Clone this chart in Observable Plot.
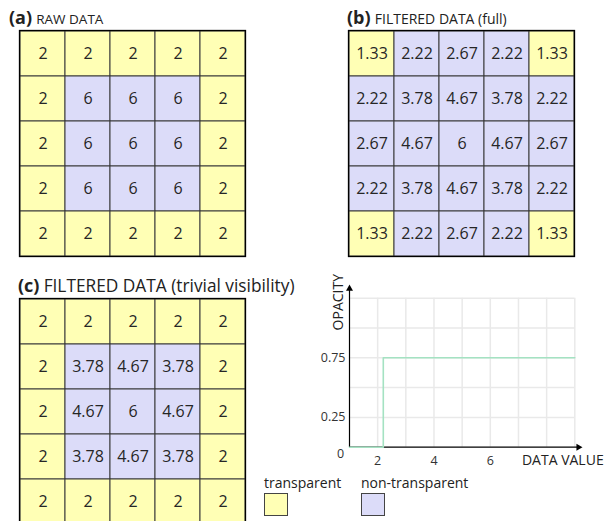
<!DOCTYPE html>
<html><head><meta charset="utf-8">
<script src="https://cdn.jsdelivr.net/npm/d3@7"></script>
<script src="https://cdn.jsdelivr.net/npm/@observablehq/plot@0.6"></script>
<style>
body{margin:0;background:#fff;font-family:"Open Sans",sans-serif;color:#222;}
#root{position:relative;width:614px;height:521px;overflow:hidden;background:#fff;}
.panel{position:absolute;}
.title{position:absolute;white-space:nowrap;color:#222;line-height:1;}
.title b{font-weight:700;}
.leg{position:absolute;font-size:14px;color:#222;white-space:nowrap;line-height:1;}
.sw{position:absolute;width:22px;height:21px;border:1px solid #444;}
</style></head><body><div id="root"></div>
<script>
// ---------- data ----------
const gridRows = [0, 1, 2, 3, 4];
const gridCols = [0, 1, 2, 3, 4];
const categories = ["transparent", "non-transparent"];
const categoryColors = ["#ffffb5", "#dcdcf9"];

const rawValues = [
  ["2","2","2","2","2"],
  ["2","6","6","6","2"],
  ["2","6","6","6","2"],
  ["2","6","6","6","2"],
  ["2","2","2","2","2"]
];
const rawVisible = [
  [0,0,0,0,0],
  [0,1,1,1,0],
  [0,1,1,1,0],
  [0,1,1,1,0],
  [0,0,0,0,0]
];
const fullValues = [
  ["1.33","2.22","2.67","2.22","1.33"],
  ["2.22","3.78","4.67","3.78","2.22"],
  ["2.67","4.67","6","4.67","2.67"],
  ["2.22","3.78","4.67","3.78","2.22"],
  ["1.33","2.22","2.67","2.22","1.33"]
];
const fullVisible = [
  [0,1,1,1,0],
  [1,1,1,1,1],
  [1,1,1,1,1],
  [1,1,1,1,1],
  [0,1,1,1,0]
];
const trivialValues = [
  ["2","2","2","2","2"],
  ["2","3.78","4.67","3.78","2"],
  ["2","4.67","6","4.67","2"],
  ["2","3.78","4.67","3.78","2"],
  ["2","2","2","2","2"]
];
const trivialVisible = rawVisible;

// opacity transfer function (step)
const tfDataValue = [1, 2.2, 9];
const tfOpacity = [0, 0.75, 0.75];
const xTicks = [2, 4, 6];
const xGrid = [2, 3, 4, 5, 6, 7, 8, 9];
const yTickValues = [0.25, 0.75];
const yTickLabels = ["0.25", "0.75"];
const yGrid = [0.25, 0.5, 0.75, 1, 1.25];
const xDomain = [1, 9];
const yDomain = [0, 1.25];
const xAxisEnd = 9.13;
const yAxisEnd = 1.33;

// ---------- helpers ----------
const root = document.getElementById("root");
function place(el, left, top) {
  el.classList.add("panel");
  el.style.left = left + "px";
  el.style.top = top + "px";
  root.appendChild(el);
  return el;
}
function title(bold, rest, left, top, bsize, rsize) {
  const d = document.createElement("div");
  d.className = "title";
  d.style.left = left + "px";
  d.style.top = top + "px";
  d.innerHTML = `<b style="font-size:${bsize}px">${bold}</b>&nbsp;<span style="font-size:${rsize}px">${rest}</span>`;
  root.appendChild(d);
}
function gridPanel(values, visible, opts) {
  const data = [];
  for (const r of gridRows) for (const c of gridCols)
    data.push({row: r, col: c, label: values[r][c], cat: categories[visible[r][c]]});
  return Plot.plot({
    width: opts.width, height: opts.height,
    marginLeft: opts.ml, marginRight: opts.mr, marginTop: opts.mt, marginBottom: opts.mb,
    style: {fontFamily: "Open Sans", background: "transparent", overflow: "visible"},
    x: {type: "band", domain: gridCols, padding: 0, axis: null},
    y: {type: "band", domain: gridRows, padding: 0, axis: null},
    color: {domain: categories, range: categoryColors},
    marks: [
      Plot.cell(data, {x: "col", y: "row", fill: "cat", stroke: "#3a3a3a", strokeWidth: 1, inset: 0}),
      Plot.frame({stroke: "#000", strokeWidth: 1.3}),
      Plot.text(data, {x: "col", y: "row", text: "label", fontSize: 16, fill: "#262626"})
    ]
  });
}

// ---------- panels ----------
place(gridPanel(rawValues, rawVisible, {width: 262, height: 270, ml: 19, mr: 17, mt: 30, mb: 14}), 0, 0);
place(gridPanel(fullValues, fullVisible, {width: 262, height: 270, ml: 18, mr: 18, mt: 30, mb: 14}), 330, 0);
place(gridPanel(trivialValues, trivialVisible, {width: 262, height: 260, ml: 19, mr: 17, mt: 28, mb: 6}), 0, 270);

title("(a)", "RAW DATA", 9, 8, 18, 13.5);
title("(b)", "FILTERED DATA (full)", 347, 8, 18, 14);
title("(c)", "FILTERED DATA (trivial visibility)", 18, 276, 18, 17.3);

// ---------- transfer function chart ----------
const tf = tfDataValue.map((v, i) => ({v, o: tfOpacity[i]}));
const chart = Plot.plot({
  width: 314, height: 210,
  marginLeft: 49, marginRight: 39.7, marginTop: 37.7, marginBottom: 23.3,
  style: {fontFamily: "Open Sans", background: "transparent", overflow: "visible"},
  x: {domain: xDomain, axis: null},
  y: {domain: yDomain, axis: null},
  marks: [
    Plot.ruleX(xGrid, {stroke: "#e9e9e9", strokeWidth: 1.5}),
    Plot.ruleY(yGrid, {stroke: "#e9e9e9", strokeWidth: 1.5}),
    Plot.link([{x1: xDomain[0], y1: 0, x2: xAxisEnd, y2: 0}], {x1: "x1", y1: "y1", x2: "x2", y2: "y2", stroke: "#000", strokeWidth: 1.2}),
    Plot.link([{x1: xDomain[0], y1: 0, x2: xDomain[0], y2: yAxisEnd}], {x1: "x1", y1: "y1", x2: "x2", y2: "y2", stroke: "#000", strokeWidth: 1.2}),
    Plot.dot([{x: xAxisEnd, y: 0}], {x: "x", y: "y", symbol: "triangle", r: 2.6, fill: "#000", stroke: null, rotate: 90}),
    Plot.dot([{x: xDomain[0], y: yAxisEnd}], {x: "x", y: "y", symbol: "triangle", r: 2.6, fill: "#000", stroke: null}),
    Plot.line(tf, {x: "v", y: "o", curve: "step-after", stroke: "#a4e2c2", strokeWidth: 1.6}),
    Plot.text(xTicks, {x: d => d, y: 0, dy: 14, text: d => String(d), fontSize: 12.5, fill: "#333"}),
    Plot.text(yTickValues, {x: xDomain[0], y: d => d, dx: -4, text: (d, i) => yTickLabels[i], textAnchor: "end", fontSize: 12.5, fill: "#333"}),
    Plot.text([0], {x: xDomain[0], y: d => d, dx: -9, dy: 7, text: d => String(d), fontSize: 12.5, fill: "#333"}),
    Plot.text(["DATA VALUE"], {x: xDomain[1], y: 0, dx: -12, dy: 13, text: d => d, fontSize: 14, fill: "#222"}),
    Plot.text(["OPACITY"], {x: xDomain[0], y: yDomain[1], dx: -11, dy: 4, rotate: -90, text: d => d, fontSize: 14, fill: "#222"})
  ]
});
place(chart, 300, 260);

// ---------- legend ----------
function legend(label, color, left) {
  const t = document.createElement("div");
  t.className = "leg";
  t.style.left = left + "px";
  t.style.top = "476px";
  t.textContent = label;
  root.appendChild(t);
  const s = document.createElement("div");
  s.className = "sw";
  s.style.left = left + "px";
  s.style.top = "493px";
  s.style.background = color;
  root.appendChild(s);
}
legend(categories[0], categoryColors[0], 264);
legend(categories[1], categoryColors[1], 361);
</script>
</body></html>
